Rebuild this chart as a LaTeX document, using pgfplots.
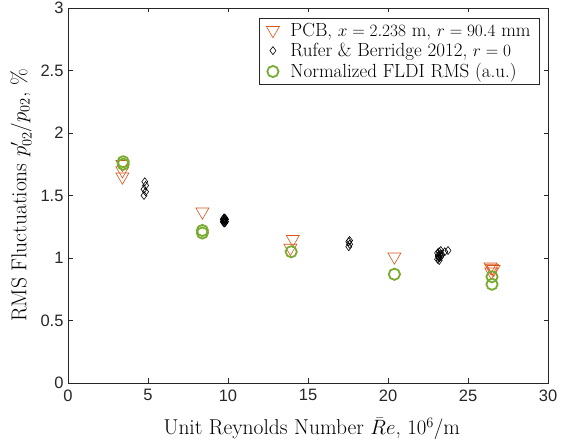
\documentclass[border=0pt]{standalone}
\usepackage{fontspec}
\usepackage{pgfplots}
\pgfplotsset{compat=1.18}
\newfontfamily\ticksf{Liberation Sans}
\definecolor{morange}{rgb}{0.85,0.325,0.098}
\definecolor{mgreen}{rgb}{0.466,0.674,0.188}
\definecolor{axgray}{rgb}{0.15,0.15,0.15}
\begin{document}
\begin{tikzpicture}
\begin{axis}[
  at={(0,0)}, anchor=south west,
  scale only axis, width=480pt, height=375pt,
  xmin=0, xmax=30, ymin=0, ymax=3,
  xtick={0,5,...,30}, ytick={0,0.5,...,3},
  tick align=inside, tick pos=both,
  major tick length=4.5pt,
  tick style={axgray, line width=0.5pt},
  axis line style={axgray, line width=0.6pt},
  /pgf/number format/assume math mode=true,
  ticklabel style={font=\ticksf\fontsize{16.5}{18}\selectfont, text=axgray},
  xticklabel style={yshift=-3pt},
  yticklabel style={/pgf/number format/fixed, /pgf/number format/precision=1, xshift=-1pt},
  xlabel={Unit Reynolds Number $\bar{R}e$, $10^6/\mathrm{m}$},
  ylabel={RMS Fluctuations $p'_{02}/p_{02}$, \%},
  label style={font=\fontsize{21.5}{24}\selectfont},
  xlabel style={at={(axis description cs:0.508,-0.122)}, anchor=center},
  ylabel style={at={(axis description cs:-0.098,0.5)}, anchor=center},
  legend style={at={(0.983,0.973)}, anchor=north east, draw=axgray, line width=0.5pt,
    font=\fontsize{19}{22}\selectfont, row sep=1.5pt, inner xsep=7pt, inner ysep=2.5pt,
    /tikz/every odd column/.style={column sep=9pt}},
  legend cell align=left,
  legend image code/.code={\draw[#1] plot coordinates {(0pt,0pt)};},
]
\addplot[only marks, mark=triangle, mark options={rotate=180, draw=morange, line width=0.6pt}, mark size=7.5pt]
coordinates {(3.4,1.65)(3.4,1.70)(3.4,1.75)(8.4,1.37)(14.05,1.15)(13.9,1.08)(20.4,1.01)(26.4,0.93)(26.5,0.92)(26.6,0.91)(26.45,0.89)};
\addlegendentry{PCB, $x=2.238$ m, $r=90.4$ mm}
\addplot[only marks, mark=diamond, mark options={draw=black, line width=0.6pt}, mark size=4pt]
coordinates {(4.75,1.50)(4.85,1.53)(4.75,1.55)(4.85,1.58)(4.8,1.61)
(9.7,1.29)(9.75,1.30)(9.8,1.31)(9.75,1.28)(9.8,1.32)(9.85,1.29)(9.7,1.31)(9.8,1.30)(9.75,1.29)(9.8,1.28)(9.85,1.31)(9.75,1.32)
(17.55,1.09)(17.6,1.11)(17.55,1.13)(17.6,1.14)
(23.1,0.99)(23.2,1.00)(23.15,1.02)(23.25,1.03)(23.1,1.04)(23.2,1.05)(23.3,1.01)(23.35,1.03)(23.2,0.98)(23.3,1.06)(23.15,1.01)(23.75,1.06)(23.55,1.05)};
\addlegendentry{Rufer \& Berridge 2012, $r=0$}
\addplot[only marks, mark=o, mark options={draw=mgreen, line width=1.8pt}, mark size=5.6pt]
coordinates {(3.45,1.77)(3.45,1.75)(8.4,1.22)(8.4,1.20)(13.95,1.05)(20.4,0.87)(26.5,0.85)(26.5,0.79)};
\addlegendentry{Normalized FLDI RMS (a.u.)}
\end{axis}
\pgfresetboundingbox
\path (-68pt,-60pt) rectangle (493pt,383pt);
\end{tikzpicture}
\end{document}
